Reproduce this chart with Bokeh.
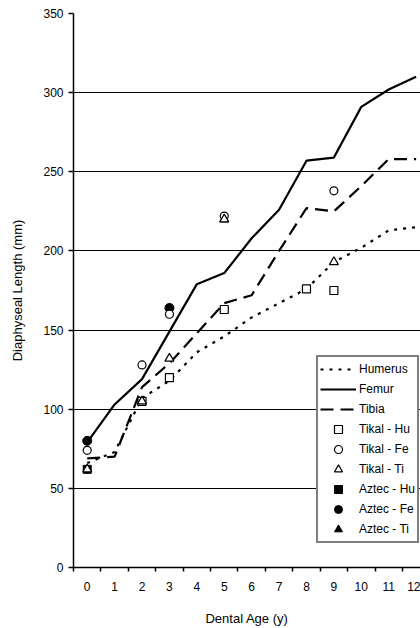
from bokeh.plotting import figure
from bokeh.models import FixedTicker, Legend, LegendItem, Range1d
from bokeh.embed import file_html
from bokeh.resources import INLINE

# ---- data ----
ages = list(range(13))
age_labels = [str(a) for a in ages]
humerus = [66, 73, 107, 118, 136, 146, 158, 167, 176, 193, 202, 213, 215]
femur = [79, 103, 119, 149, 179, 186, 208, 226, 257, 259, 291, 302, 310]
tibia = [69, 70, 114, 129, 148, 167, 172, 200, 227, 225, 241, 258, 258]

tikal_hu_x = [2, 3, 5, 8, 9]
tikal_hu_y = [105, 120, 163, 176, 175]
tikal_fe_x = [0, 2, 3, 5, 9]
tikal_fe_y = [74, 128, 160, 222, 238]
tikal_ti_x = [0, 2, 3, 5, 9]
tikal_ti_y = [62, 105, 132, 220, 193]
aztec_hu_x = [0]
aztec_hu_y = [62]
aztec_fe_x = [0, 3]
aztec_fe_y = [80, 164]
aztec_ti_x = [5]
aztec_ti_y = [220]

y_ticks = [0, 50, 100, 150, 200, 250, 300, 350]
grid_ticks = [50, 100, 150, 200, 250, 300]

FONT = "Liberation Sans"

p = figure(width=420, height=628, output_backend="svg", toolbar_location=None,
           x_range=Range1d(-0.5, 12.16), y_range=Range1d(0, 350),
           min_border_left=73, min_border_right=0, min_border_top=13, min_border_bottom=61)
p.outline_line_color = None
p.background_fill_color = "white"

# axes
p.xaxis.ticker = FixedTicker(ticks=ages, minor_ticks=[a - 0.5 for a in ages] + [12.5])
p.xaxis.major_label_overrides = {a: l for a, l in zip(ages, age_labels)}
p.xaxis.major_tick_line_color = None
p.xaxis.major_tick_out = 0
p.xaxis.major_tick_in = 0
p.xaxis.minor_tick_out = 4
p.xaxis.minor_tick_in = 0
p.xaxis.minor_tick_line_color = "black"
p.xaxis.minor_tick_line_width = 1.5
p.xaxis.major_label_standoff = 10
p.xaxis.axis_label = "Dental Age (y)"
p.xaxis.axis_label_standoff = 17

p.yaxis.ticker = FixedTicker(ticks=y_ticks)
p.yaxis.minor_tick_line_color = None
p.yaxis.major_tick_out = 5
p.yaxis.major_tick_in = 0
p.yaxis.major_tick_line_width = 1.5
p.yaxis.major_label_standoff = 5
p.yaxis.axis_label = "Diaphyseal Length (mm)"
p.yaxis.axis_label_standoff = 15

for ax in (p.xaxis, p.yaxis):
    ax.axis_line_color = "black"
    ax.axis_line_width = 1.5
    ax.major_label_text_font = FONT
    ax.major_label_text_font_size = "12px"
    ax.major_label_text_color = "black"
    ax.axis_label_text_font = FONT
    ax.axis_label_text_font_size = "13px"
    ax.axis_label_text_font_style = "normal"
    ax.axis_label_text_color = "black"

p.xgrid.grid_line_color = None
p.ygrid.ticker = FixedTicker(ticks=grid_ticks)
p.ygrid.grid_line_color = "black"
p.ygrid.grid_line_width = 1.2

# lines
r_hu = p.line(ages, humerus, line_color="black", line_width=2.2, line_dash="3 6")
r_fe = p.line(ages, femur, line_color="black", line_width=2.2)
r_ti = p.line(ages, tibia, line_color="black", line_width=2.2, line_dash="13 7")

# markers
r_ahu = p.scatter(aztec_hu_x, aztec_hu_y, marker="square", size=8, fill_color="black", line_color="black")
r_afe = p.scatter(aztec_fe_x, aztec_fe_y, marker="circle", size=9, fill_color="black", line_color="black")
r_ati = p.scatter(aztec_ti_x, aztec_ti_y, marker="triangle", size=9, fill_color="black", line_color="black")
r_thu = p.scatter(tikal_hu_x, tikal_hu_y, marker="square", size=8, fill_color="white", line_color="black", line_width=1.2)
r_tfe = p.scatter(tikal_fe_x, tikal_fe_y, marker="circle", size=8, fill_color="white", line_color="black", line_width=1.2)
r_tti = p.scatter(tikal_ti_x, tikal_ti_y, marker="triangle", size=9, fill_color="white", line_color="black", line_width=1.2)

legend = Legend(items=[
    LegendItem(label="Humerus", renderers=[r_hu]),
    LegendItem(label="Femur", renderers=[r_fe]),
    LegendItem(label="Tibia", renderers=[r_ti]),
    LegendItem(label="Tikal - Hu", renderers=[r_thu]),
    LegendItem(label="Tikal - Fe", renderers=[r_tfe]),
    LegendItem(label="Tikal - Ti", renderers=[r_tti]),
    LegendItem(label="Aztec - Hu", renderers=[r_ahu]),
    LegendItem(label="Aztec - Fe", renderers=[r_afe]),
    LegendItem(label="Aztec - Ti", renderers=[r_ati]),
], location=(243, 24))
legend.label_text_font = FONT
legend.label_text_font_size = "12px"
legend.label_text_color = "black"
legend.glyph_width = 36
legend.glyph_height = 20
legend.label_height = 20
legend.spacing = 0
legend.padding = 2
legend.margin = 0
legend.label_standoff = 3
legend.border_line_color = "black"
legend.border_line_width = 2
legend.background_fill_alpha = 1
p.add_layout(legend, "center")

open("out.html", "w").write(file_html(p, INLINE))
